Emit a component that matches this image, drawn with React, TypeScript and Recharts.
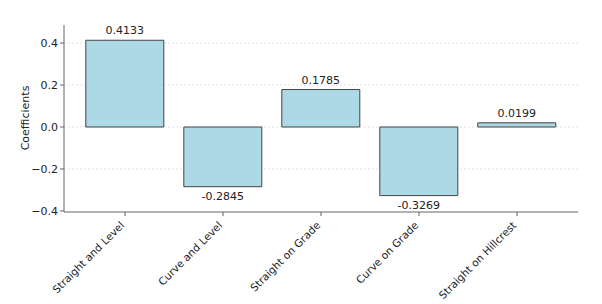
import React from "react"
import { BarChart, Bar, XAxis, YAxis, CartesianGrid, LabelList, Label } from "recharts"

// Categorías y coeficientes
const categories = [
  "Straight and Level",
  "Curve and Level",
  "Straight on Grade",
  "Curve on Grade",
  "Straight on Hillcrest",
]
const coefficients = [0.4133, -0.2845, 0.1785, -0.3269, 0.0199]
const yTicks = [-0.4, -0.2, 0, 0.2, 0.4]
const gridValues = [-0.2, 0, 0.2, 0.4]

const data = categories.map((name, i) => ({ name, value: coefficients[i] }))

const FONT = "'DejaVu Sans', sans-serif"

const XTick = ({ x, y, payload }: any) => (
  <text
    x={x}
    y={y + 8}
    textAnchor="end"
    fontSize={10.5}
    fontFamily={FONT}
    fill="#222"
    transform={`rotate(-45, ${x}, ${y + 8})`}
  >
    {payload.value}
  </text>
)

const ValueLabel = ({ x, y, width, height, value }: any) => {
  const top = Math.min(y, y + height)
  const bottom = Math.max(y, y + height)
  const cx = x + width / 2
  const ty = value >= 0 ? top - 6 : bottom + 13
  return (
    <text x={cx} y={ty} textAnchor="middle" fontSize={11} fontFamily={FONT} fill="#222">
      {value.toFixed(4)}
    </text>
  )
}

const fmtTick = (v: number) => (v < 0 ? "\u2212" + Math.abs(v).toFixed(1) : v.toFixed(1))

export default function App() {
  return (
    <div style={{ position: "absolute", left: 0, top: 0, width: 602, height: 304, background: "#fff" }}>
      <BarChart
        width={602}
        height={304}
        data={data}
        margin={{ top: 25, right: 24, left: 0, bottom: 0 }}
        barCategoryGap="10%"
      >
        <CartesianGrid
          vertical={false}
          horizontalValues={gridValues}
          strokeDasharray="2 2"
          stroke="#e2e2e2"
        />
        <XAxis
          dataKey="name"
          height={92}
          padding={{ left: 12, right: 12 }}
          interval={0}
          tick={<XTick />}
          tickSize={4}
          axisLine={{ stroke: "#666" }}
          tickLine={{ stroke: "#666" }}
        />
        <YAxis
          width={64}
          domain={[-0.405, 0.486]}
          ticks={yTicks}
          tickFormatter={fmtTick}
          tickSize={4}
          axisLine={{ stroke: "#666" }}
          tickLine={{ stroke: "#666" }}
          tick={{ fontSize: 11, fontFamily: FONT, fill: "#222" }}
        >
          <Label
            content={() => (
              <text
                x={29}
                y={118}
                textAnchor="middle"
                fontSize={11}
                fontFamily={FONT}
                fill="#222"
                transform="rotate(-90, 29, 118)"
              >
                Coefficients
              </text>
            )}
          />
        </YAxis>
        <Bar dataKey="value" fill="#add8e6" stroke="#444" strokeWidth={1} isAnimationActive={false}>
          <LabelList dataKey="value" content={<ValueLabel />} />
        </Bar>
      </BarChart>
    </div>
  )
}
